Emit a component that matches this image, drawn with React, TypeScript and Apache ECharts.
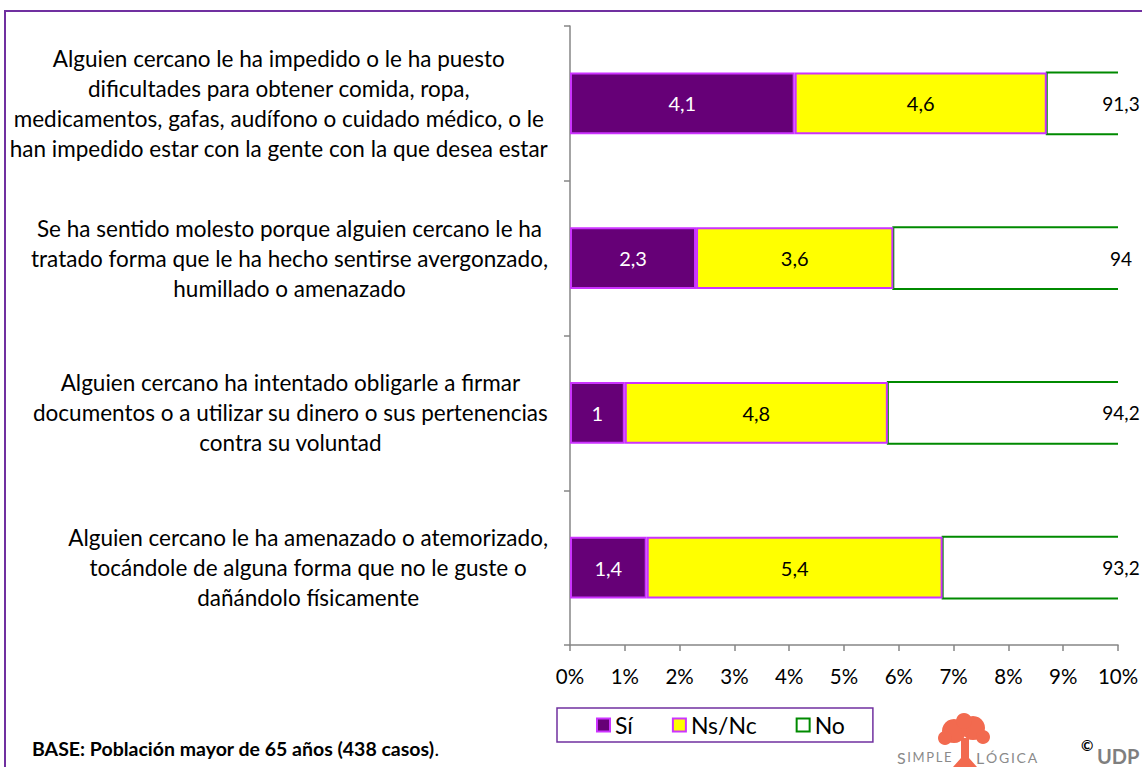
import React, { useEffect, useRef } from "react";
import * as echarts from "echarts";

const categories = [
  "Alguien cercano le ha impedido o le ha puesto\ndificultades para obtener comida, ropa,\nmedicamentos, gafas, audífono o cuidado médico, o le\nhan impedido estar con la gente con la que desea estar",
  "Se ha sentido molesto porque alguien cercano le ha\ntratado forma que le ha hecho sentirse avergonzado,\nhumillado o amenazado",
  "Alguien cercano ha intentado obligarle a firmar\ndocumentos o a utilizar su dinero o sus pertenencias\ncontra su voluntad",
  "Alguien cercano le ha amenazado o atemorizado,\ntocándole de alguna forma que no le guste o\ndañándolo físicamente",
];
const seriesNames = ["Sí", "Ns/Nc", "No"];
const siValues = [4.1, 2.3, 1.0, 1.4];
const nsncValues = [4.6, 3.6, 4.8, 5.4];
const noValues = [91.3, 94.0, 94.2, 93.2];
const axisMin = 0;
const axisMax = 10;
const axisInterval = 1;
const footnote = "BASE: Población mayor de 65 años (438 casos)";

const FONT = "Lato, 'Open Sans', sans-serif";
const fmt = (v: number) => String(v).replace(".", ",");
const BAR_RATIO = 0.4;
const TREE = "#F26A4F";
const GREEN = "#008A00";
const THIN = "\u2009";

export default function App() {
  const ref = useRef<HTMLDivElement>(null);
  useEffect(() => {
    if (!ref.current) return;
    const chart = echarts.init(ref.current, undefined, { renderer: "svg" });
    const barBorder = "#CC33FF";
    const noData = noValues.map((v, i) => [i, siValues[i] + nsncValues[i], v]);
    const spaced = (s: string) => s.split("").join(THIN);
    const option: any = {
      animation: false,
      backgroundColor: "#fff",
      textStyle: { fontFamily: FONT },
      grid: { left: 570, right: 24, top: 26, bottom: 122, containLabel: false },
      xAxis: {
        type: "value",
        min: axisMin,
        max: axisMax,
        interval: axisInterval,
        axisLine: { show: true, lineStyle: { color: "#868686", width: 1.5 } },
        axisTick: { show: true, length: 6, lineStyle: { color: "#868686", width: 1.5 } },
        splitLine: { show: false },
        axisLabel: {
          formatter: "{value}%",
          color: "#000",
          fontSize: 20.5,
          fontFamily: FONT,
          margin: 20,
        },
      },
      yAxis: {
        type: "category",
        inverse: true,
        data: categories,
        axisLine: { show: true, lineStyle: { color: "#868686", width: 1.5 } },
        axisTick: { show: true, length: 6, lineStyle: { color: "#868686", width: 1.5 } },
        axisLabel: {
          align: "right",
          margin: 22,
          formatter: (v: string) =>
            v
              .split("\n")
              .map((l) => `{c|${l}}`)
              .join("\n"),
          rich: {
            c: {
              align: "center",
              fontSize: 22.5,
              lineHeight: 30,
              color: "#000",
              fontFamily: FONT,
            },
          },
        },
      },
      legend: {
        data: seriesNames,
        left: 557,
        top: 708,
        orient: "horizontal",
        icon: "rect",
        itemWidth: 13,
        itemHeight: 13,
        itemGap: 39,
        borderColor: "#7030A0",
        borderWidth: 1.5,
        padding: [5, 28, 5, 39],
        textStyle: { fontSize: 23, color: "#000", fontFamily: FONT, lineHeight: 24 },
        selectedMode: false,
      },
      series: [
        {
          name: seriesNames[0],
          type: "bar",
          stack: "total",
          barWidth: "40%",
          data: siValues,
          itemStyle: { color: "#660077", borderColor: barBorder, borderWidth: 2 },
          label: {
            show: true,
            position: "inside",
            color: "#fff",
            fontSize: 20,
            fontFamily: FONT,
            formatter: (p: any) => fmt(p.value),
          },
        },
        {
          name: seriesNames[1],
          type: "bar",
          stack: "total",
          barWidth: "40%",
          data: nsncValues,
          itemStyle: { color: "#FFFF00", borderColor: barBorder, borderWidth: 2 },
          label: {
            show: true,
            position: "inside",
            color: "#000",
            fontSize: 20,
            fontFamily: FONT,
            formatter: (p: any) => fmt(p.value),
          },
        },
        {
          name: seriesNames[2],
          type: "custom",
          data: noData,
          encode: { x: [1, 2], y: 0 },
          itemStyle: { color: "#FFFFFF", borderColor: GREEN, borderWidth: 2 },
          renderItem: (params: any, api: any) => {
            const idx = api.value(0);
            const start = api.value(1);
            const val = api.value(2);
            const p0 = api.coord([start, idx]);
            const pEnd = api.coord([start + val, idx]);
            const pMax = api.coord([axisMax, idx]);
            const h = api.size([0, 1])[1] * BAR_RATIO;
            const x0 = p0[0];
            const x1 = Math.min(pEnd[0], pMax[0]);
            const y0 = p0[1] - h / 2;
            const y1 = p0[1] + h / 2;
            return {
              type: "group",
              children: [
                {
                  type: "rect",
                  shape: { x: x0, y: y0, width: x1 - x0, height: h },
                  style: { fill: "#fff" },
                },
                {
                  type: "polyline",
                  shape: { points: [[x1, y0], [x0, y0], [x0, y1], [x1, y1]] },
                  style: { stroke: GREEN, lineWidth: 2, fill: null },
                },
                {
                  type: "text",
                  x: x1 + 3,
                  y: p0[1],
                  style: {
                    text: fmt(val),
                    align: "center",
                    verticalAlign: "middle",
                    fontSize: 19,
                    fontFamily: FONT,
                    fill: "#000",
                  },
                },
              ],
            };
          },
        },
      ],
      graphic: [
        {
          type: "rect",
          silent: true,
          z: -10,
          shape: { x: 5, y: 11, width: 1300, height: 900 },
          style: { fill: "none", stroke: "#7030A0", lineWidth: 2 },
        },
        {
          type: "text",
          left: 32,
          top: 738,
          style: {
            text: `{b|${footnote}}{n|.}`,
            rich: {
              b: { fontSize: 19.5, fontWeight: "bold", fontFamily: FONT, fill: "#000" },
              n: { fontSize: 19.5, fontFamily: FONT, fill: "#000" },
            },
          },
        },
        {
          type: "group",
          silent: true,
          children: [
            { type: "circle", shape: { cx: 954, cy: 731, r: 12 }, style: { fill: TREE } },
            { type: "circle", shape: { cx: 973, cy: 728, r: 12 }, style: { fill: TREE } },
            { type: "circle", shape: { cx: 945, cy: 738, r: 7 }, style: { fill: TREE } },
            { type: "circle", shape: { cx: 983, cy: 737, r: 7 }, style: { fill: TREE } },
            { type: "circle", shape: { cx: 964, cy: 721, r: 8 }, style: { fill: TREE } },
            {
              type: "polygon",
              shape: {
                points: [
                  [961, 738],
                  [969, 738],
                  [969, 758],
                  [977, 767],
                  [953, 767],
                  [961, 758],
                ],
              },
              style: { fill: TREE },
            },
          ],
        },
        {
          type: "text",
          left: 897,
          top: 749,
          style: {
            text: `{a|S}{b|${THIN}${spaced("IMPLE")}}`,
            rich: {
              a: { fontSize: 16, fill: "#8a8a8a", fontFamily: FONT },
              b: { fontSize: 13, fill: "#8a8a8a", fontFamily: FONT },
            },
          },
        },
        {
          type: "text",
          left: 976,
          top: 749,
          style: {
            text: `{a|L}{b|${THIN}${spaced("ÓGICA")}}`,
            rich: {
              a: { fontSize: 16, fill: "#8a8a8a", fontFamily: FONT },
              b: { fontSize: 14, fill: "#8a8a8a", fontFamily: FONT },
            },
          },
        },
        {
          type: "text",
          left: 1081,
          top: 737,
          style: { text: "©", fontSize: 15, fontWeight: "bold", fill: "#000", fontFamily: FONT },
        },
        {
          type: "text",
          left: 1097,
          top: 746,
          style: { text: "UDP", fontSize: 20, fontWeight: "bold", fill: "#7f7f7f", fontFamily: FONT },
        },
      ],
    };
    chart.setOption(option);
    return () => chart.dispose();
  }, []);
  return (
    <div
      ref={ref}
      style={{ position: "fixed", left: 0, top: 0, width: 1142, height: 767, background: "#fff" }}
    />
  );
}
